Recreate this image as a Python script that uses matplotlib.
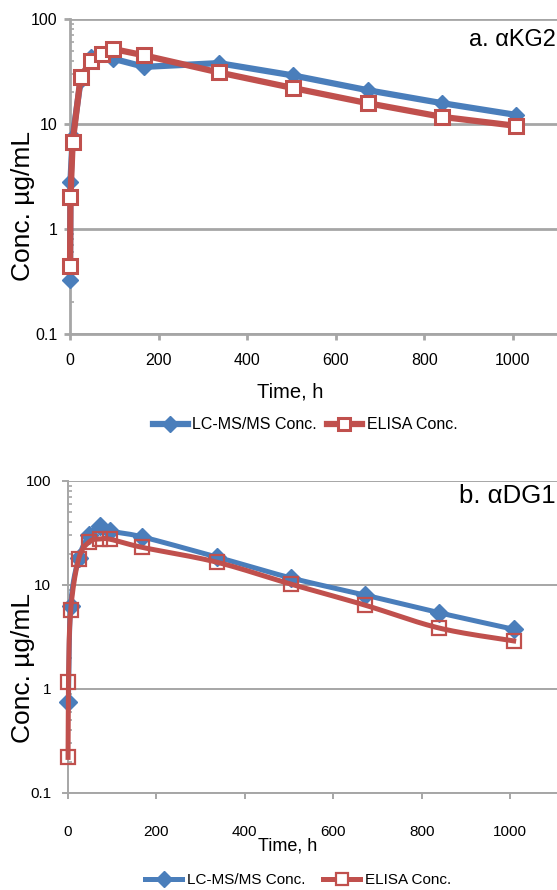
import numpy as np
import matplotlib
matplotlib.use("Agg")
import matplotlib.pyplot as plt
from matplotlib.lines import Line2D
from matplotlib.ticker import LogLocator, FixedLocator, NullFormatter

plt.rcParams['font.family'] = ['Liberation Sans', 'DejaVu Sans']

# ---------------- data ----------------
time_h = [0.083, 1, 6, 24, 48, 72, 96, 168, 336, 504, 672, 840, 1008]

# a. aKG2
lcms_a_t = [0.083, 1, 6, 24, 48, 72, 96, 168, 336, 504, 672, 840, 1008]
lcms_a = [0.33, 2.8, 7.5, 26, 43, 46, 42, 35, 38, 29, 21, 15.8, 12.2]
elisa_a = [0.44, 2.0, 6.7, 28, 40, 46, 52, 45, 31, 22, 15.8, 11.7, 9.6]

# b. aDG1
lcms_b_t = [1, 6, 24, 48, 72, 96, 168, 336, 504, 672, 840, 1008]
lcms_b = [0.75, 6.3, 18, 30, 37, 33, 29, 18.6, 11.7, 8.0, 5.4, 3.75]
elisa_b = [0.22, 1.17, 5.7, 17.8, 26, 27.7, 27.5, 23, 16.6, 10.2, 6.4, 3.85, 2.9]

x_ticks = [0, 200, 400, 600, 800, 1000]
y_ticks = [0.1, 1, 10, 100]
y_ticklabels = ['0.1', '1', '10', '100']

BLUE = '#4a7ebb'
RED = '#c0504d'
GRID = '#a6a6a6'

W, H = 557, 890
fig = plt.figure(figsize=(W / 100, H / 100), dpi=100)


def smooth(x, y, n=24):
    P = np.column_stack([np.asarray(x, float), np.log10(np.asarray(y, float))])
    out = []
    tt = np.linspace(0, 1, n)
    for i in range(len(P) - 1):
        p0 = P[i - 1] if i > 0 else P[i]
        p1, p2 = P[i], P[i + 1]
        p3 = P[i + 2] if i + 2 < len(P) else P[i + 1]
        c1 = p1 + (p2 - p0) / 6.0
        c2 = p2 - (p3 - p1) / 6.0
        seg = (((1 - tt) ** 3)[:, None] * p1 + (3 * (1 - tt) ** 2 * tt)[:, None] * c1
               + (3 * (1 - tt) * tt ** 2)[:, None] * c2 + (tt ** 3)[:, None] * p2)
        out.append(seg if i == 0 else seg[1:])
    S = np.vstack(out)
    return S[:, 0], 10 ** S[:, 1]


def px_axes(left, top, right, bottom):
    return fig.add_axes([left / W, 1 - bottom / H, (right - left) / W, (bottom - top) / H])


def style(ax, xmax, gw, xpad, ypad, fs):
    ax.set_yscale('log')
    ax.set_xlim(0, xmax)
    ax.set_ylim(0.1, 100)
    ax.yaxis.set_major_locator(FixedLocator(y_ticks))
    ax.set_yticklabels(y_ticklabels)
    ax.yaxis.set_minor_locator(LogLocator(base=10, subs=np.arange(2, 10)))
    ax.yaxis.set_minor_formatter(NullFormatter())
    ax.set_xticks(x_ticks)
    ax.set_xticklabels([str(v) for v in x_ticks])
    ax.grid(True, axis='y', which='major', color=GRID, lw=gw, zorder=0)
    for s in ['top', 'right']:
        ax.spines[s].set_visible(False)
    for s in ['left', 'bottom']:
        ax.spines[s].set_color(GRID)
        ax.spines[s].set_linewidth(gw)
    ax.tick_params(axis='both', which='major', direction='out', length=4, width=gw,
                   color=GRID, labelsize=fs)
    ax.tick_params(axis='x', which='major', pad=xpad)
    ax.tick_params(axis='y', which='major', pad=ypad)
    ax.tick_params(axis='y', which='minor', direction='in', length=3, width=1.2, color=GRID)


# ---------------- panel a ----------------
axa = px_axes(70, 19, 557, 334)
style(axa, 1100, 2.0, 10, 5, 11.5)
axa.plot(lcms_a_t, lcms_a, color=BLUE, lw=4.5, marker='D', ms=8, mfc=BLUE, mec=BLUE,
         zorder=3, clip_on=False)
axa.plot(time_h, elisa_a, color=RED, lw=4.5, marker='s', ms=9.5, mfc='white', mec=RED,
         mew=2.2, zorder=4, clip_on=False)
fig.text(556 / W, 1 - 46 / H, 'a. αKG2', ha='right', va='baseline', fontsize=17)
fig.text(290 / W, 1 - 392 / H, 'Time, h', ha='center', va='center', fontsize=14.5)
fig.text(23 / W, 1 - 206 / H, 'Conc. µg/mL', rotation=90, ha='center', va='center', fontsize=19)

ha_blue = Line2D([], [], color=BLUE, lw=4.5, marker='D', ms=8, mfc=BLUE, mec=BLUE)
ha_red = Line2D([], [], color=RED, lw=4.5, marker='s', ms=8, mfc='white', mec=RED, mew=2.2)
fig.legend([ha_blue, ha_red], ['LC-MS/MS Conc.', 'ELISA Conc.'], loc='center',
           bbox_to_anchor=(305 / W, 1 - 425 / H), ncol=2, frameon=False, fontsize=11.5,
           handlelength=2.2, handletextpad=0.3, columnspacing=0.6)

# ---------------- panel b ----------------
axb = px_axes(68, 481, 557, 793)
style(axb, 1106, 1.4, 19, 8, 11)
bx, by = smooth(lcms_b_t, lcms_b)
axb.plot(bx, by, color=BLUE, lw=3.6, zorder=3, clip_on=False)
axb.plot(lcms_b_t, lcms_b, ls='none', marker='D', ms=9, mfc=BLUE, mec=BLUE, zorder=3,
         clip_on=False)
rx, ry = smooth(time_h, elisa_b)
axb.plot(rx, ry, color=RED, lw=3.6, zorder=4, clip_on=False)
axb.plot(time_h, elisa_b, ls='none', marker='s', ms=9.5, mfc='none', mec=RED, mew=1.6,
         zorder=4, clip_on=False)
fig.text(556 / W, 1 - 503 / H, 'b. αDG1', ha='right', va='baseline', fontsize=18.5)
fig.text(288 / W, 1 - 846 / H, 'Time, h', ha='center', va='center', fontsize=13)
fig.text(23 / W, 1 - 668 / H, 'Conc. µg/mL', rotation=90, ha='center', va='center', fontsize=19)

hb_blue = Line2D([], [], color=BLUE, lw=3.6, marker='D', ms=8, mfc=BLUE, mec=BLUE)
hb_red = Line2D([], [], color=RED, lw=3.6, marker='s', ms=8, mfc='white', mec=RED, mew=1.6)
fig.legend([hb_blue, hb_red], ['LC-MS/MS Conc.', 'ELISA Conc.'], loc='center',
           bbox_to_anchor=(298 / W, 1 - 880 / H), ncol=2, frameon=False, fontsize=11,
           handlelength=2.4, handletextpad=0.3, columnspacing=1.2)

fig.savefig('out.png', dpi=100)
